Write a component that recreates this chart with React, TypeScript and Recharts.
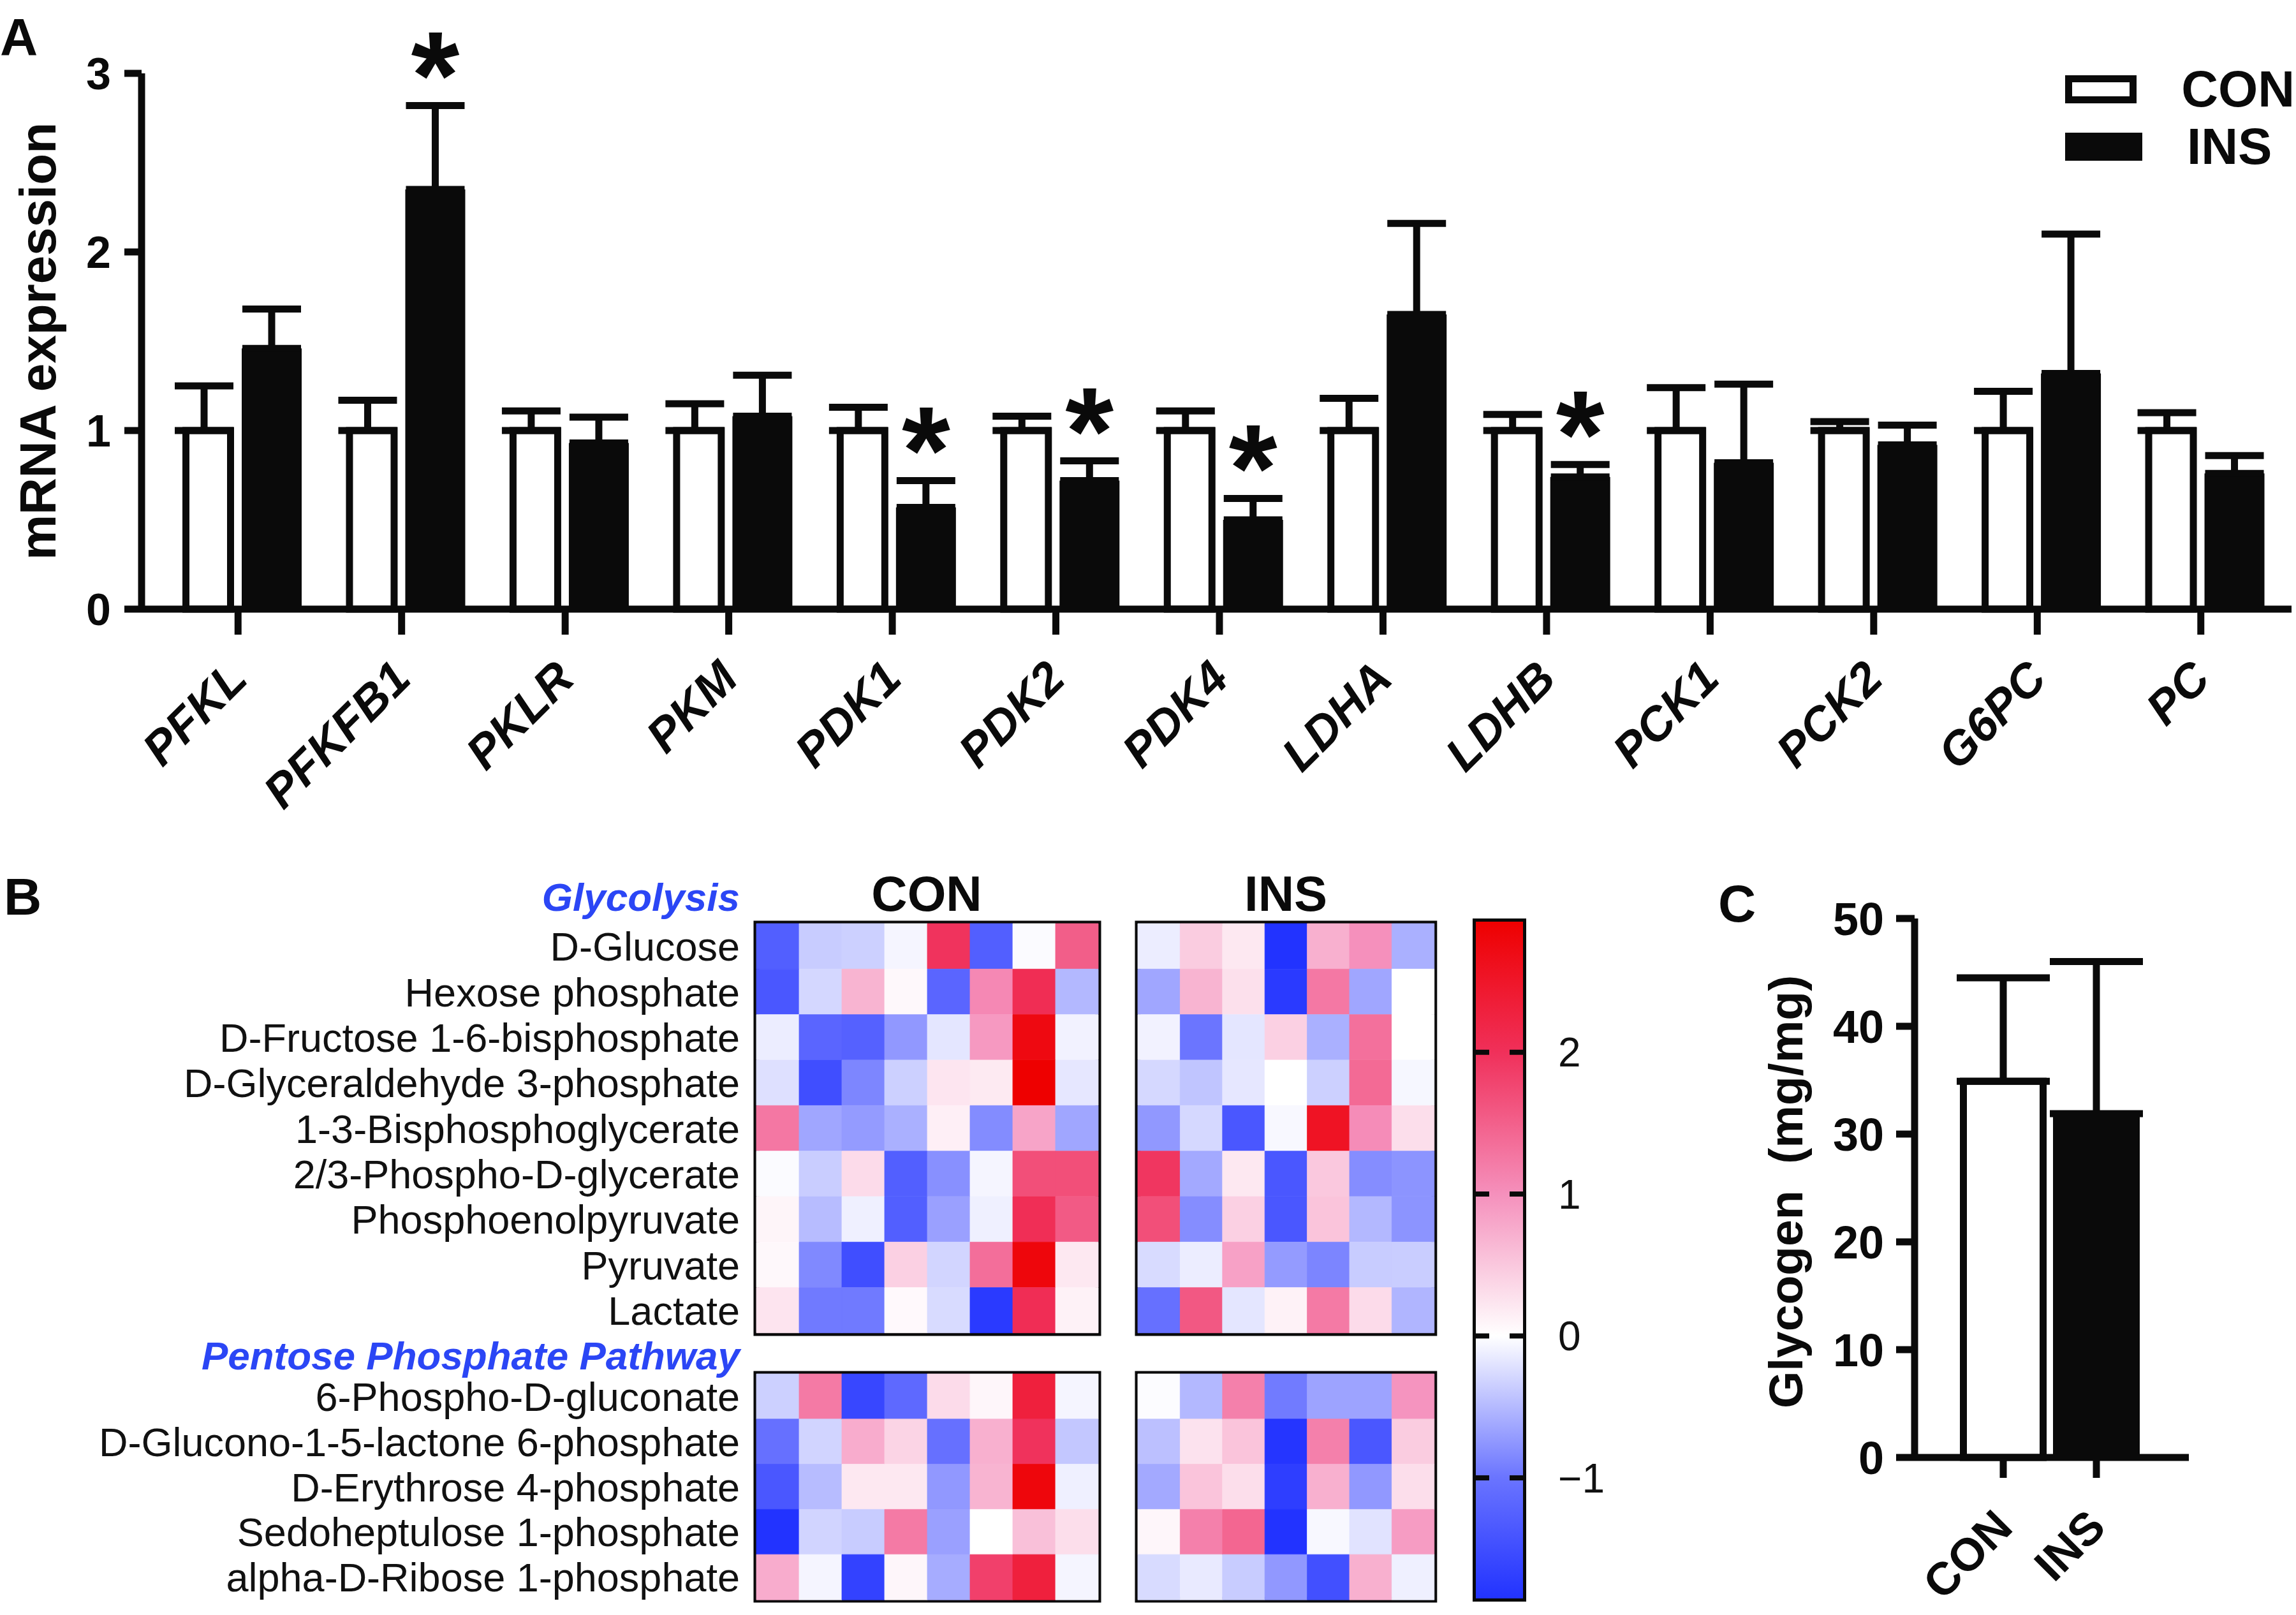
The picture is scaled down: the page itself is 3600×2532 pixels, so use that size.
import React from 'react';
import {
  BarChart,
  Bar,
  XAxis,
  YAxis,
  ErrorBar,
  LabelList,
  Legend,
  Cell,
  ReferenceArea,
  ReferenceLine,
} from 'recharts';

const INK = '#0a0a0a';
const BLUE = '#2b46f5';
const FONT = '"Liberation Sans", Arial, Helvetica, sans-serif';

// ---- panel A: mRNA expression ----
const genes = ['PFKL', 'PFKFB1', 'PKLR', 'PKM', 'PDK1', 'PDK2', 'PDK4', 'LDHA', 'LDHB', 'PCK1', 'PCK2', 'G6PC', 'PC'];
const conMean = [1, 1, 1, 1, 1, 1, 1, 1, 1, 1, 1, 1, 1];
const conSem = [0.25, 0.17, 0.11, 0.15, 0.13, 0.08, 0.11, 0.18, 0.09, 0.24, 0.05, 0.22, 0.1];
const insMean = [1.46, 2.35, 0.93, 1.08, 0.57, 0.72, 0.5, 1.65, 0.74, 0.82, 0.92, 1.32, 0.76];
const insSem = [0.22, 0.47, 0.145, 0.23, 0.15, 0.11, 0.12, 0.51, 0.07, 0.44, 0.11, 0.78, 0.1];
const insSig = [false, true, false, false, true, true, true, false, true, false, false, false, false];

// ---- panel B: metabolite z-scores ----
const glycoNames = [
  'D-Glucose',
  'Hexose phosphate',
  'D-Fructose 1-6-bisphosphate',
  'D-Glyceraldehyde 3-phosphate',
  '1-3-Bisphosphoglycerate',
  '2/3-Phospho-D-glycerate',
  'Phosphoenolpyruvate',
  'Pyruvate',
  'Lactate',
];
const pppNames = [
  '6-Phospho-D-gluconate',
  'D-Glucono-1-5-lactone 6-phosphate',
  'D-Erythrose 4-phosphate',
  'Sedoheptulose 1-phosphate',
  'alpha-D-Ribose 1-phosphate',
];
const glycoCon = [
  [-1.28, -0.37, -0.34, -0.07, 1.97, -1.28, -0.03, 1.52],
  [-1.38, -0.29, 0.68, 0.06, -1.19, 1.08, 2.06, -0.51],
  [-0.13, -1.19, -1.25, -0.74, -0.18, 0.92, 2.75, -0.09],
  [-0.22, -1.5, -0.87, -0.34, 0.23, 0.19, 2.92, -0.17],
  [1.26, -0.64, -0.72, -0.57, 0.14, -0.83, 0.82, -0.64],
  [-0.03, -0.36, 0.32, -1.28, -0.8, -0.07, 1.68, 1.68],
  [0.09, -0.48, -0.11, -1.28, -0.68, -0.11, 2.04, 1.56],
  [0.06, -0.85, -1.5, 0.42, -0.3, 1.35, 2.8, 0.21],
  [0.24, -0.96, -0.96, 0.05, -0.26, -1.76, 2.05, 0.12],
];
const glycoIns = [
  [-0.13, 0.46, 0.21, -1.85, 0.71, 1.0, -0.57],
  [-0.64, 0.68, 0.28, -1.76, 1.25, -0.64, 0.0],
  [-0.09, -0.99, -0.18, 0.42, -0.57, 1.33, 0.0],
  [-0.28, -0.42, -0.17, 0.0, -0.34, 1.4, -0.06],
  [-0.74, -0.28, -1.38, -0.05, 2.55, 1.04, 0.3],
  [1.94, -0.62, 0.21, -1.38, 0.5, -0.82, -0.77],
  [1.68, -0.82, 0.42, -1.38, 0.53, -0.51, -0.77],
  [-0.26, -0.13, 0.85, -0.72, -0.88, -0.37, -0.36],
  [-1.05, 1.58, -0.18, 0.12, 1.23, 0.32, -0.53],
];
const pppCon = [
  [-0.34, 1.23, -1.59, -1.14, 0.32, 0.08, 2.3, -0.07],
  [-1.05, -0.31, 0.75, 0.39, -1.05, 0.71, 1.98, -0.4],
  [-1.38, -0.48, 0.21, 0.21, -0.74, 0.68, 2.8, -0.11],
  [-1.85, -0.31, -0.37, 1.23, -0.68, 0.0, 0.57, 0.3],
  [0.75, -0.07, -1.65, 0.08, -0.6, 1.83, 2.3, -0.07],
];
const pppIns = [
  [-0.02, -0.51, 1.17, -0.95, -0.66, -0.66, 0.96],
  [-0.45, 0.26, 0.53, -1.82, 1.17, -1.38, 0.46],
  [-0.62, 0.53, 0.3, -1.71, 0.71, -0.74, 0.3],
  [0.08, 1.17, 1.44, -1.85, -0.05, -0.2, 0.89],
  [-0.26, -0.15, -0.37, -0.74, -1.47, 0.71, -0.11],
];
const zRange = [-1.85, 2.92];
const zTicks = [-1, 0, 1, 2];

// ---- panel C: glycogen ----
const groups = ['CON', 'INS'];
const glyMean = [34.9, 31.9];
const glySem = [9.6, 14.1];
const glyTicks = [0, 10, 20, 30, 40, 50];

// colour scale of the heat maps (value -> rgb)
const zStops: [number, number[]][] = [
  [-1.85, [34, 51, 255]],
  [-1, [106, 116, 255]],
  [0, [255, 255, 255]],
  [1, [245, 144, 188]],
  [2, [240, 48, 90]],
  [2.92, [238, 0, 0]],
];
const zColor = (v: number) => {
  const t = Math.max(zStops[0][0], Math.min(zStops[zStops.length - 1][0], v));
  for (let i = 1; i < zStops.length; i++) {
    const [v1, c1] = zStops[i];
    const [v0, c0] = zStops[i - 1];
    if (t <= v1) {
      const f = (t - v0) / (v1 - v0);
      const c = c0.map((a, k) => Math.round(a + (c1[k] - a) * f));
      return `rgb(${c[0]},${c[1]},${c[2]})`;
    }
  }
  return 'rgb(238,0,0)';
};

const mrnaData = genes.map((g, i) => ({
  gene: g,
  con: conMean[i],
  ins: insMean[i],
  conErr: [0, conSem[i]],
  insErr: [0, insSem[i]],
}));

const glyData = groups.map((g, i) => ({ group: g, mean: glyMean[i], err: [0, glySem[i]] }));

const ConBar = (p: any) => (
  <rect x={p.x + 18.5} y={p.y} width={p.width - 24} height={p.height} fill="#fff" stroke={INK} strokeWidth={11} />
);

const renderStar = (p: any) => {
  const { x, y, width, height, index } = p;
  if (!insSig[index]) return null;
  const perUnit = height / insMean[index];
  const errTop = y - insSem[index] * perUnit;
  return (
    <text x={x + width / 2} y={errTop + 20} textAnchor="middle" fontFamily={FONT} fontWeight={700} fontSize={195} fill={INK}>
      *
    </text>
  );
};

const GeneTick = ({ x, y, payload }: any) => (
  <text
    x={x + 18}
    y={y + 73}
    transform={`rotate(-45 ${x + 18} ${y + 73})`}
    textAnchor="end"
    fontFamily={FONT}
    fontSize={74}
    fontWeight={700}
    fontStyle="italic"
    fill={INK}
  >
    {payload.value}
  </text>
);

const GroupTick = ({ x, y, payload }: any) => (
  <text
    x={x + 18}
    y={y + 81}
    transform={`rotate(-45 ${x + 18} ${y + 81})`}
    textAnchor="end"
    fontFamily={FONT}
    fontSize={72}
    fontWeight={700}
    fill={INK}
  >
    {payload.value}
  </text>
);

const NameTick = ({ x, y, payload }: any) => (
  <text x={x} y={y} dy="0.36em" textAnchor="end" fontFamily={FONT} fontSize={63} fill="#111">
    {payload.value}
  </text>
);

const LegendBox = ({ payload }: any) => (
  <div style={{ fontFamily: FONT }}>
    {(payload || []).map((p: any) => (
      <div key={p.value} style={{ display: 'flex', alignItems: 'center', height: 90 }}>
        <div
          style={{
            width: 121,
            height: 44,
            boxSizing: 'border-box',
            border: `11px solid ${INK}`,
            background: p.value === 'CON' ? '#fff' : INK,
            marginRight: 70,
          }}
        />
        <span style={{ fontSize: 80, fontWeight: 700, color: INK, lineHeight: 1 }}>{p.value}</span>
      </div>
    ))}
  </div>
);

const axisStroke = { stroke: INK, strokeWidth: 11 };

const LABEL_W = 1120;

function Heatmap({ names, values, left, top, height, showNames }: any) {
  const ncol = values[0].length;
  const rows = names.map((n: string, i: number) => {
    const r: any = { name: n };
    values[i].forEach((_: number, j: number) => (r[`c${j}`] = 1));
    return r;
  });
  const labelW = showNames ? LABEL_W : 0;
  const width = labelW + ncol * (showNames ? 67 : 66.4) + 20 - (showNames ? 10 : 0);
  return (
    <div style={{ position: 'absolute', left, top }}>
      <BarChart
        layout="vertical"
        width={width}
        height={height}
        data={rows}
        margin={{ top: 10, right: 10, bottom: 10, left: showNames ? 0 : 10 }}
        barCategoryGap={0}
      >
        <XAxis type="number" domain={[0, ncol]} hide />
        <YAxis
          type="category"
          dataKey="name"
          hide={!showNames}
          width={labelW}
          axisLine={false}
          tickLine={false}
          tickSize={0}
          tickMargin={26}
          interval={0}
          tick={NameTick}
        />
        {values[0].map((_: number, j: number) => (
          <Bar key={j} dataKey={`c${j}`} stackId="cells" isAnimationActive={false}>
            {values.map((row: number[], i: number) => (
              <Cell key={i} fill={zColor(row[j])} stroke={zColor(row[j])} strokeWidth={0.8} />
            ))}
          </Bar>
        ))}
        <ReferenceArea x1={0} x2={ncol} fill="none" stroke={INK} strokeWidth={9} ifOverflow="visible" />
      </BarChart>
    </div>
  );
}

// gradient runs top (max) to bottom (min), so stops go from high to low values
const gradStops = [...zStops].reverse().map(([v, c]) => ({
  offset: (zRange[1] - v) / (zRange[1] - zRange[0]),
  color: `rgb(${c[0]},${c[1]},${c[2]})`,
}));

export default function App() {
  return (
    <div
      style={{
        position: 'absolute',
        left: 0,
        top: 0,
        width: 3600,
        height: 2532,
        background: '#fff',
        overflow: 'hidden',
        fontFamily: FONT,
      }}
    >
      <svg width={3600} height={2532} style={{ position: 'absolute', left: 0, top: 0 }}>
        <g fontFamily={FONT} fontWeight={700} fill={INK}>
          <text x={0} y={86} fontSize={82}>A</text>
          <text x={6} y={1434} fontSize={82}>B</text>
          <text x={2694} y={1445} fontSize={82}>C</text>
          <text x={1453} y={1428} fontSize={78} textAnchor="middle">CON</text>
          <text x={2016} y={1428} fontSize={78} textAnchor="middle">INS</text>
        </g>
        <g fontFamily={FONT} fontWeight={700} fontStyle="italic" fill={BLUE} fontSize={62} textAnchor="end">
          <text x={1160} y={1428}>Glycolysis</text>
          <text x={1160} y={2147}>Pentose Phosphate Pathway</text>
        </g>
      </svg>

      {/* A */}
      <div style={{ position: 'absolute', left: 0, top: 0 }}>
        <BarChart
          width={3600}
          height={1300}
          data={mrnaData}
          margin={{ top: 115, right: 7, bottom: 0, left: 0 }}
          barSize={94}
          barGap={12}
        >
          <XAxis
            dataKey="gene"
            height={345}
            padding={{ left: 23, right: 14 }}
            axisLine={axisStroke}
            tickLine={axisStroke}
            tickSize={40}
            tickMargin={0}
            interval={0}
            tick={GeneTick}
          />
          <YAxis
            domain={[0, 3]}
            ticks={[0, 1, 2, 3]}
            width={222}
            axisLine={axisStroke}
            tickLine={axisStroke}
            tickSize={27}
            tickMargin={21}
            tick={{ fontSize: 70, fontWeight: 700, fill: INK, fontFamily: FONT }}
            label={(p: any) => {
              const vb = p.viewBox || { x: 0, y: 115, height: 840 };
              const cx = vb.x + 87;
              const cy = vb.y + vb.height / 2;
              return (
                <text
                  x={cx}
                  y={cy}
                  transform={`rotate(-90 ${cx} ${cy})`}
                  textAnchor="middle"
                  fontFamily={FONT}
                  fontSize={80}
                  fontWeight={700}
                  fill={INK}
                >
                  mRNA expression
                </text>
              );
            }}
          />
          <Legend content={LegendBox} layout="horizontal" verticalAlign="middle" wrapperStyle={{ top: 95, left: 3238, width: 360 }} />
          <Bar dataKey="con" name="CON" shape={ConBar} isAnimationActive={false}>
            <ErrorBar dataKey="conErr" width={46} stroke={INK} strokeWidth={11} direction="y" />
          </Bar>
          <Bar dataKey="ins" name="INS" fill={INK} isAnimationActive={false}>
            <ErrorBar dataKey="insErr" width={46} stroke={INK} strokeWidth={11} direction="y" />
            <LabelList dataKey="ins" content={renderStar} />
          </Bar>
        </BarChart>
      </div>

      {/* B */}
      <Heatmap names={glycoNames} values={glycoCon} left={1186 - LABEL_W} top={1438} height={662} showNames />
      <Heatmap names={glycoNames} values={glycoIns} left={1774} top={1438} height={662} />
      <Heatmap names={pppNames} values={pppCon} left={1186 - LABEL_W} top={2144} height={374} showNames />
      <Heatmap names={pppNames} values={pppIns} left={1774} top={2144} height={374} />

      <div style={{ position: 'absolute', left: 2304, top: 1435 }}>
        <BarChart
          width={234}
          height={1081}
          data={[{ k: 'z', span: zRange }]}
          margin={{ top: 10, right: 0, bottom: 10, left: 10 }}
          barCategoryGap={0}
        >
          <defs>
            <linearGradient id="zgrad" x1="0" y1="0" x2="0" y2="1">
              {gradStops.map((s) => (
                <stop key={s.offset} offset={s.offset} stopColor={s.color} />
              ))}
            </linearGradient>
          </defs>
          <XAxis dataKey="k" hide />
          <YAxis
            type="number"
            orientation="right"
            domain={zRange}
            allowDataOverflow
            ticks={zTicks}
            width={150}
            axisLine={false}
            tickLine={false}
            tickSize={0}
            tickMargin={55}
            tickFormatter={(v: number) => (v < 0 ? `\u2212${Math.abs(v)}` : String(v))}
            tick={{ fontSize: 64, fill: '#111', fontFamily: FONT, textAnchor: 'start' }}
          />
          <Bar dataKey="span" fill="url(#zgrad)" isAnimationActive={false} />
          {zTicks.map((t) => (
            <ReferenceLine key={t} y={t} stroke={INK} strokeWidth={8} strokeDasharray="21 32 21" />
          ))}
          <ReferenceArea y1={zRange[0]} y2={zRange[1]} fill="none" stroke={INK} strokeWidth={10} ifOverflow="visible" />
        </BarChart>
      </div>

      {/* C */}
      <div style={{ position: 'absolute', left: 2700, top: 1340 }}>
        <BarChart width={900} height={1192} data={glyData} margin={{ top: 100, right: 168, bottom: 0, left: 0 }} barSize={136}>
          <XAxis
            dataKey="group"
            height={247}
            padding={{ left: 66, right: 72 }}
            axisLine={axisStroke}
            tickLine={axisStroke}
            tickSize={32}
            tickMargin={0}
            interval={0}
            tick={GroupTick}
          />
          <YAxis
            domain={[0, 50]}
            ticks={glyTicks}
            width={302}
            axisLine={axisStroke}
            tickLine={axisStroke}
            tickSize={29}
            tickMargin={19}
            tick={{ fontSize: 72, fontWeight: 700, fill: INK, fontFamily: FONT }}
            label={(p: any) => {
              const vb = p.viewBox || { x: 0, y: 100, height: 845 };
              const cx = vb.x + 126;
              const cy = vb.y + vb.height / 2 + 6;
              return (
                <text
                  x={cx}
                  y={cy}
                  transform={`rotate(-90 ${cx} ${cy})`}
                  textAnchor="middle"
                  fontFamily={FONT}
                  fontSize={75}
                  fontWeight={700}
                  fill={INK}
                  style={{ whiteSpace: 'pre' }}
                >
                  {'Glycogen  (mg/mg)'}
                </text>
              );
            }}
          />
          <Bar
            dataKey="mean"
            isAnimationActive={false}
            shape={(p: any) =>
              p.index === 0 ? (
                <rect x={p.x + 5.5} y={p.y} width={p.width - 11} height={p.height} fill="#fff" stroke={INK} strokeWidth={11} />
              ) : (
                <rect x={p.x} y={p.y} width={p.width} height={p.height} fill={INK} />
              )
            }
          >
            <ErrorBar dataKey="err" width={73} stroke={INK} strokeWidth={11} direction="y" />
          </Bar>
        </BarChart>
      </div>
    </div>
  );
}
